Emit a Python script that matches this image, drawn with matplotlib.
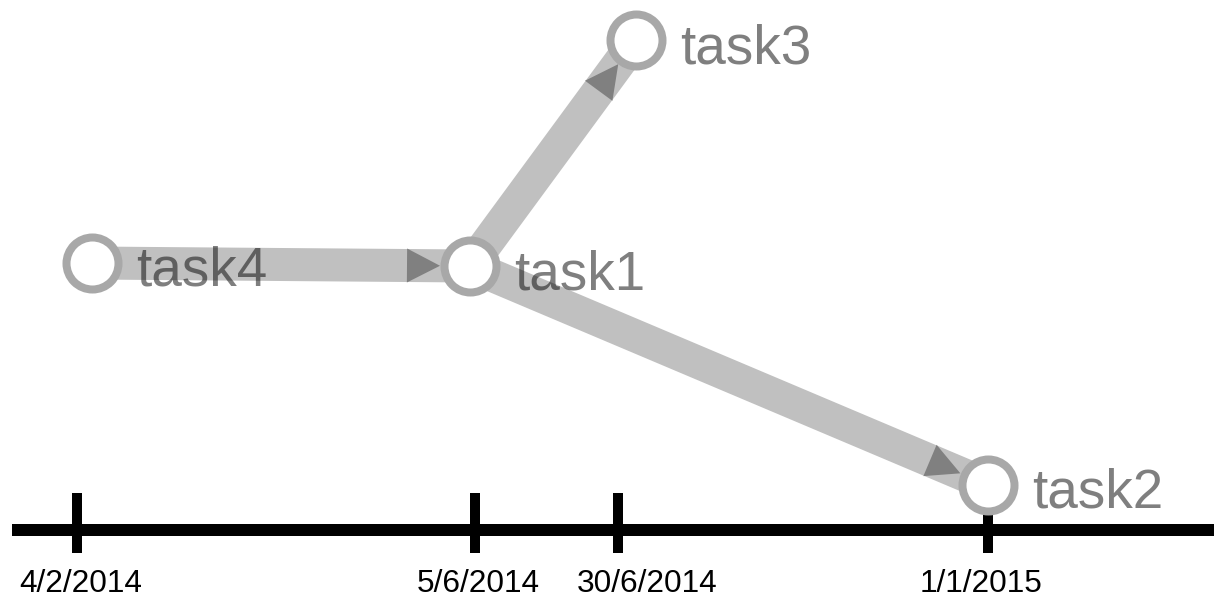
import numpy as np
import matplotlib
matplotlib.use("Agg")
from matplotlib import pyplot as plt
from matplotlib.patches import Polygon

plt.rcParams['font.family'] = ['Liberation Sans', 'DejaVu Sans']

# timeline ticks (layout x positions, same units as the canvas)
dates = ['4/2/2014', '5/6/2014', '30/6/2014', '1/1/2015']
date_pos = [77, 475, 618, 988]
date_label_pos = [81, 478, 647, 981]

# task nodes
tasks = ['task1', 'task2', 'task3', 'task4']
task_x = [470, 988, 636, 92]
task_y = [266, 485, 40, 263]

# dependencies: source -> target
edge_src = ['task4', 'task1', 'task1']
edge_dst = ['task1', 'task3', 'task2']

W, H = 1214, 598
fig = plt.figure(figsize=(W / 100, H / 100), dpi=100)
ax = fig.add_axes([0, 0, 1, 1])
ax.set_xlim(0, W)
ax.set_ylim(H, 0)
ax.axis('off')

px = 0.72  # points per pixel at dpi 100

# timeline axis
axis_y = 530
ax.axhline(axis_y, xmin=12 / W, xmax=1, color='black', lw=12 * px,
           solid_capstyle='butt', zorder=1)
ax.vlines(date_pos, axis_y - 37, axis_y + 23, color='black', lw=10 * px, zorder=1)
for d, x in zip(dates, date_label_pos):
    ax.text(x, axis_y + 54, d, ha='center', va='center', fontsize=22.8, color='black')

pos = {t: (x, y) for t, x, y in zip(tasks, task_x, task_y)}

# edges with arrowheads
r_node = 30
head_len, head_half = 33, 17
for s, t in zip(edge_src, edge_dst):
    x0, y0 = pos[s]
    x1, y1 = pos[t]
    ax.plot([x0, x1], [y0, y1], color='#c0c0c0', lw=33 * px,
            solid_capstyle='butt', zorder=2)
    d = np.array([x1 - x0, y1 - y0], dtype=float)
    u = d / np.hypot(*d)
    n = np.array([-u[1], u[0]])
    tip = np.array([x1, y1]) - u * r_node
    base = tip - u * head_len
    tri = Polygon([tip, base + n * head_half, base - n * head_half],
                  closed=True, facecolor='#808080', edgecolor='none', zorder=3)
    ax.add_patch(tri)

# nodes
ax.scatter(task_x, task_y, s=(52 * px) ** 2, facecolor='white',
           edgecolor='#a8a8a8', linewidths=8 * px, zorder=4)
for t, x, y in zip(tasks, task_x, task_y):
    ax.text(x + 44, y + 23, t, fontsize=39.5, color='black', alpha=0.5,
            va='baseline', ha='left', zorder=5)

plt.savefig('out.png', dpi=100)
